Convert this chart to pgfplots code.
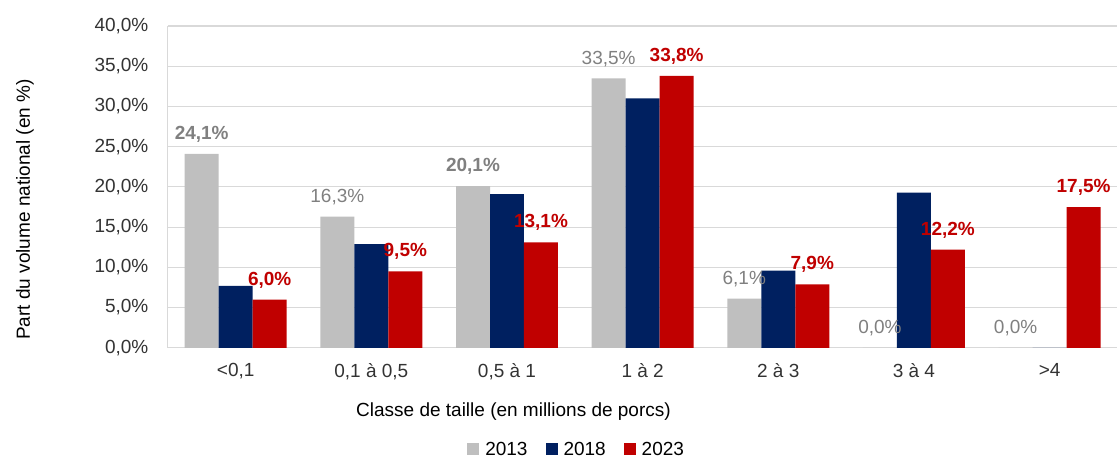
\documentclass[border=0pt]{standalone}
\usepackage{fontspec}
\setmainfont{Liberation Sans}
\usepackage{pgfplots}
\pgfplotsset{compat=1.18}
\definecolor{c13}{HTML}{BFBFBF}
\definecolor{c18}{HTML}{002060}
\definecolor{c23}{HTML}{C00000}
\definecolor{lab13}{HTML}{808080}
\definecolor{gridc}{HTML}{D9D9D9}
\newcommand{\fs}{\fontsize{19}{22}\selectfont}

\begin{document}
\begin{tikzpicture}
\pgfplotsset{
  leg/.style={legend image code/.code={\fill[##1] (0pt,-5pt) rectangle (12pt,7pt);}},
}
\begin{axis}[
  scale only axis, width=950pt, height=322pt,
  clip=false,
  ybar=0pt, bar width=34pt,
  xmin=-0.5, xmax=6.5, ymin=0, ymax=40,
  xtick={0,...,6},
  xticklabels={{<0,1}, {0,1 à 0,5}, {0,5 à 1}, {1 à 2}, {2 à 3}, {3 à 4}, {>4}},
  ytick={0,5,...,40},
  yticklabel={\pgfmathprintnumber[fixed,fixed zerofill,precision=1,use comma]{\tick}\%},
  /pgf/number format/assume math mode=true,
  ymajorgrids, grid style={gridc, line width=1.2pt},
  axis lines=left, axis line style={-, gridc, line width=1.2pt},
  major tick length=0pt,
  tick label style={font=\fs, text=black!80},
  yticklabel style={xshift=-16pt},
  xticklabel style={yshift=-12pt},
  xlabel={Classe de taille (en millions de porcs)},
  ylabel={Part du volume national (en \%)},
  label style={font=\fs},
  xlabel style={at={(rel axis cs:0.364,-0.199)}, anchor=center},
  ylabel style={at={(rel axis cs:-0.1505,0.43)}, anchor=center},
  legend style={at={(rel axis cs:0.4305,-0.317)}, anchor=center, draw=none,
    font=\fs, legend columns=3,
    /tikz/every odd column/.append style={column sep=4pt},
    /tikz/every even column/.append style={column sep=16pt}},
  nodes near coords,
  point meta=explicit symbolic,
  every node near coord/.append style={font=\fs, yshift=8pt},
]
\addplot[fill=c13, draw=none, leg, every node near coord/.append style={text=lab13}]
  coordinates {(0,24.1) [\textbf{24,1\%}] (1,16.3) [16,3\%] (2,20.1) [\textbf{20,1\%}]
               (3,33.5) [33,5\%] (4,6.1) [6,1\%] (5,0) [0,0\%] (6,0) [0,0\%]};
\addplot[fill=c18, draw=none, leg, nodes near coords=]
  coordinates {(0,7.7) [] (1,12.9) [] (2,19.1) [] (3,31.0) [] (4,9.6) [] (5,19.3) [] (6,0) []};
\addplot[fill=c23, draw=none, leg, every node near coord/.append style={text=c23, font=\fs\bfseries}]
  coordinates {(0,6.0) [6,0\%] (1,9.5) [9,5\%] (2,13.1) [13,1\%] (3,33.8) [33,8\%]
               (4,7.9) [7,9\%] (5,12.2) [12,2\%] (6,17.5) [17,5\%]};
\legend{2013,2018,2023}
\path (rel axis cs:-0.1768,-0.3509) rectangle (rel axis cs:1,1.0807);
\end{axis}
\end{tikzpicture}
\end{document}
